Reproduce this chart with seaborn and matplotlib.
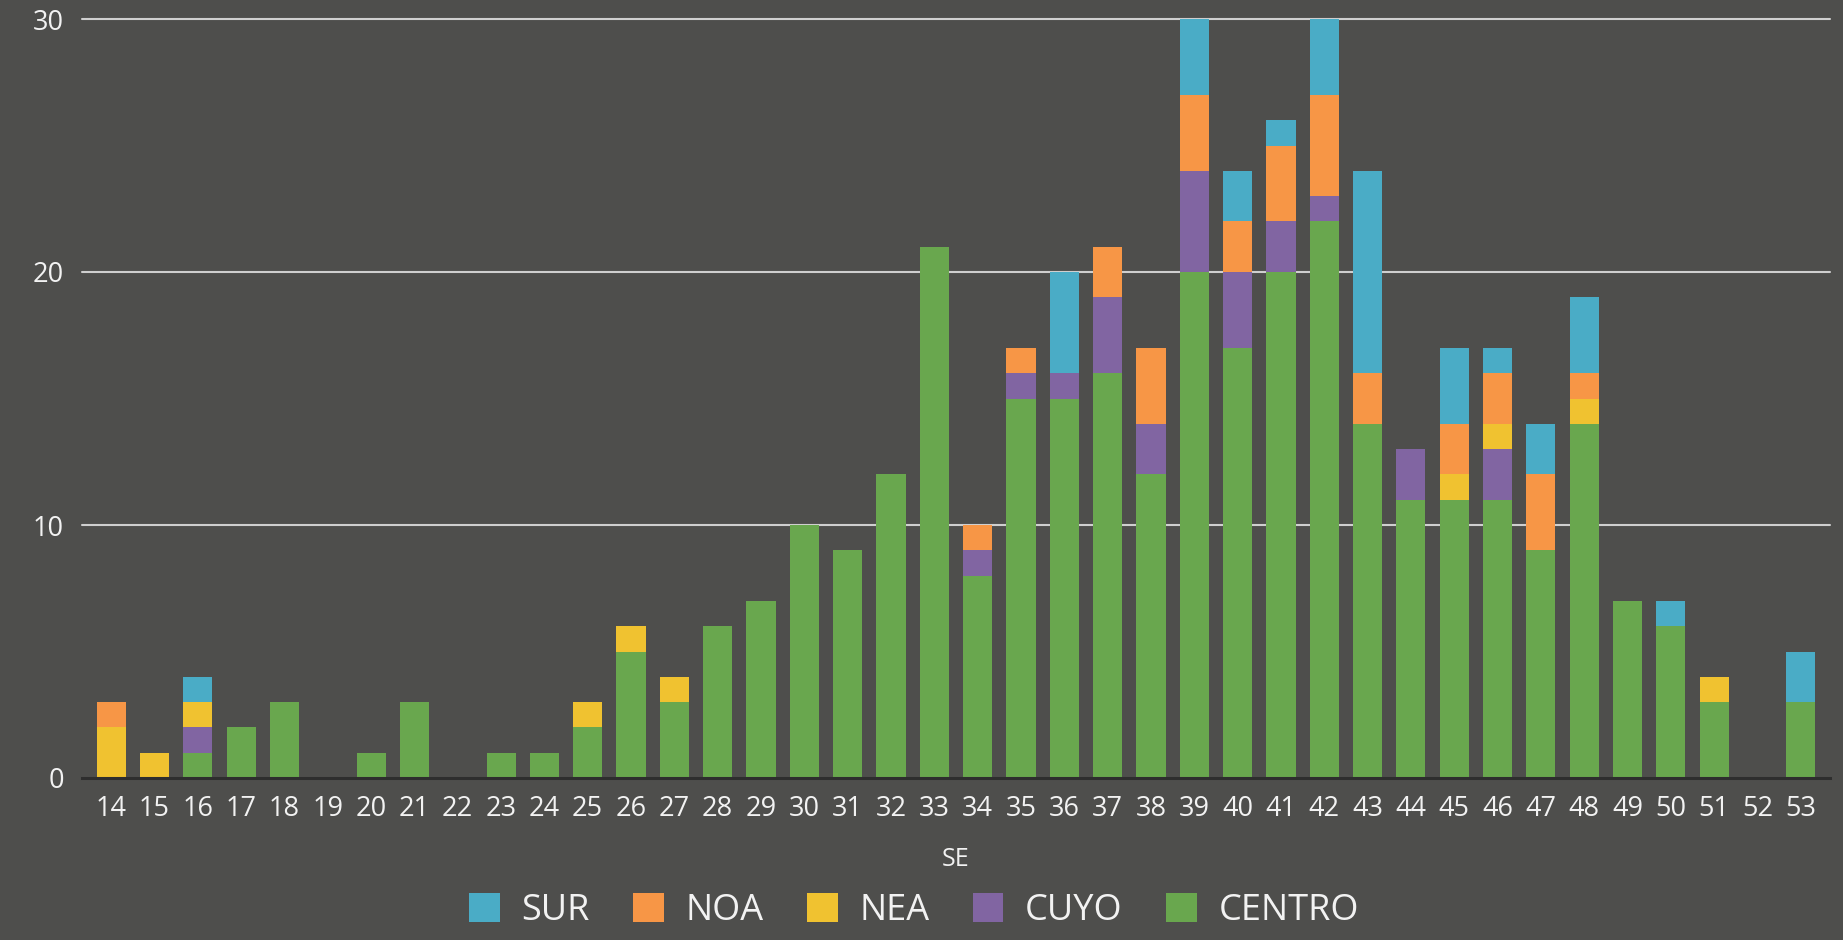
import matplotlib
matplotlib.use("Agg")
import matplotlib.pyplot as plt
import matplotlib.patches as mpatches
import numpy as np
import pandas as pd
import seaborn as sns

weeks = list(range(14, 54))
centro = [0, 0, 1, 2, 3, 0, 1, 3, 0, 1, 1, 2, 5, 3, 6, 7, 10, 9, 12, 21,
          8, 15, 15, 16, 12, 20, 17, 20, 22, 14, 11, 11, 11, 9, 14, 7, 6, 3, 0, 3]
cuyo = [0, 0, 1, 0, 0, 0, 0, 0, 0, 0, 0, 0, 0, 0, 0, 0, 0, 0, 0, 0,
        1, 1, 1, 3, 2, 4, 3, 2, 1, 0, 2, 0, 2, 0, 0, 0, 0, 0, 0, 0]
nea = [2, 1, 1, 0, 0, 0, 0, 0, 0, 0, 0, 1, 1, 1, 0, 0, 0, 0, 0, 0,
       0, 0, 0, 0, 0, 0, 0, 0, 0, 0, 0, 1, 1, 0, 1, 0, 0, 1, 0, 0]
noa = [1, 0, 0, 0, 0, 0, 0, 0, 0, 0, 0, 0, 0, 0, 0, 0, 0, 0, 0, 0,
       1, 1, 0, 2, 3, 3, 2, 3, 4, 2, 0, 2, 2, 3, 1, 0, 0, 0, 0, 0]
sur = [0, 0, 1, 0, 0, 0, 0, 0, 0, 0, 0, 0, 0, 0, 0, 0, 0, 0, 0, 0,
       0, 0, 4, 0, 0, 3, 2, 1, 3, 8, 0, 3, 1, 2, 3, 0, 1, 0, 0, 2]

series_names = ["SUR", "NOA", "NEA", "CUYO", "CENTRO"]
series_colors = {"SUR": "#4aacc6", "NOA": "#f79646", "NEA": "#f0c230",
                 "CUYO": "#8165a2", "CENTRO": "#69a74e"}
y_ticks = [0, 10, 20, 30]

BG = "#4e4e4c"
TXT = "#f2f2f2"

sns.set_theme(style="dark")
plt.rcParams["font.family"] = ["Open Sans", "DejaVu Sans"]

df = pd.DataFrame({"SE": [str(w) for w in weeks], "CENTRO": centro, "CUYO": cuyo,
                   "NEA": nea, "NOA": noa, "SUR": sur})
# cumulative stacks (bottom -> top: CENTRO, CUYO, NEA, NOA, SUR)
stack_order = ["CENTRO", "CUYO", "NEA", "NOA", "SUR"]
cum = df[stack_order].cumsum(axis=1)

fig = plt.figure(figsize=(18.43, 9.40), dpi=100, facecolor=BG)
W, H = 1843, 940
ax = fig.add_axes([82 / W, 1 - 778 / H, (1830 - 82) / W, (778 - 19) / H])
ax.set_facecolor(BG)

for name in reversed(stack_order):  # draw tallest first
    sns.barplot(x=df["SE"], y=cum[name], color=series_colors[name], width=0.67,
                saturation=1, ax=ax, zorder=3, linewidth=0)

ax.set_ylim(0, 30)
ax.set_xlim(-0.67, len(weeks) - 1 + 0.67)
ax.set_yticks(y_ticks)
ax.set_yticklabels([str(t) for t in y_ticks])
ax.grid(False)
for t in y_ticks[1:]:
    ax.axhline(t, color="#cfcfcf", linewidth=1.5, zorder=1, clip_on=False)

for s in ["top", "right", "left"]:
    ax.spines[s].set_visible(False)
ax.spines["bottom"].set_color("#2e2e2e")
ax.spines["bottom"].set_linewidth(2.2)
ax.spines["bottom"].set_zorder(4)

ax.tick_params(axis="both", length=0, colors=TXT, labelsize=19.5)
ax.tick_params(axis="x", pad=12)
ax.tick_params(axis="y", pad=13)
ax.set_ylabel("")
ax.set_xlabel("SE", color=TXT, fontsize=18)
ax.xaxis.set_label_coords(0.5, -(860 - 778) / (778 - 19))
ax.xaxis.label.set_verticalalignment("center")

handles = [mpatches.Patch(facecolor=series_colors[n], edgecolor="none", label=n)
           for n in series_names]
leg = fig.legend(handles=handles, loc="center", bbox_to_anchor=(914 / W, 1 - 911 / H),
                 ncol=5, frameon=False, fontsize=26, handlelength=0.85,
                 handleheight=0.85, handletextpad=0.6, columnspacing=1.2,
                 borderaxespad=0, borderpad=0)
for t in leg.get_texts():
    t.set_color(TXT)

fig.savefig("out.png", dpi=100, facecolor=BG)
